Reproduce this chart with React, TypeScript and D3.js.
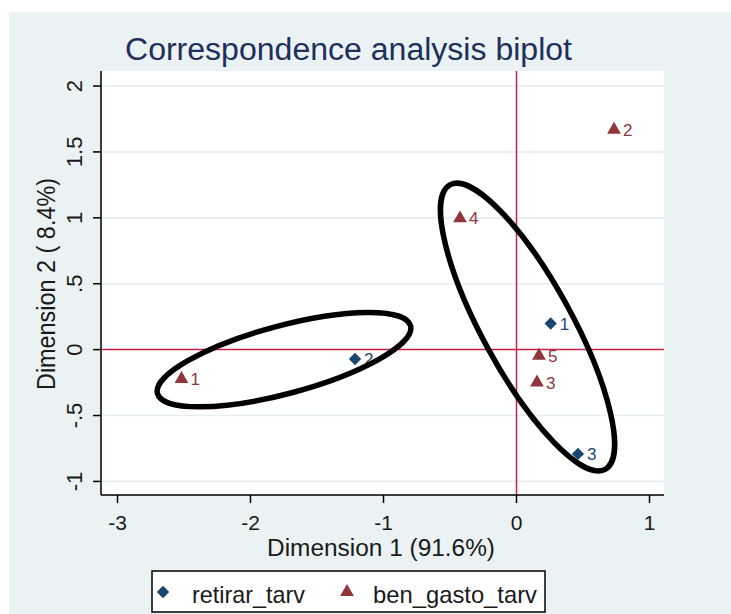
import React from 'react';
import * as d3 from 'd3';

// row / column coordinates
const retirarLabels = ['1', '2', '3'];
const retirarDim1 = [0.257, -1.214, 0.462];
const retirarDim2 = [0.198, -0.071, -0.791];

const benLabels = ['1', '2', '3', '4', '5'];
const benDim1 = [-2.519, 0.733, 0.154, -0.425, 0.169];
const benDim2 = [-0.223, 1.668, -0.249, 0.996, -0.046];

const xTicks = [-3, -2, -1, 0, 1];
const yTicks = [-1, -0.5, 0, 0.5, 1, 1.5, 2];
const yTickLabels = ['-1', '-.5', '0', '.5', '1', '1.5', '2'];

// hand drawn ellipses (center in data units, radii in px)
const ellipseCx = [-1.748, 0.083];
const ellipseCy = [-0.076, 0.171];
const ellipseRx = [131, 162];
const ellipseRy = [34, 45];
const ellipseAngle = [-15, 61.4];

const W = 731;
const H = 614;
const plot = { left: 101, right: 664, top: 71, bottom: 495 };

const NAVY = '#1a476f';
const MAROON = '#90353b';
const RED = '#c8204a';
const FONT = 'Arial, "Liberation Sans", sans-serif';

export default function App() {
  const x = d3.scaleLinear().domain([-3.124, 1.109]).range([plot.left, plot.right]);
  const y = d3.scaleLinear().domain([-1.103, 2.114]).range([plot.bottom, plot.top]);

  const diamond = d3.symbol(d3.symbolSquare, 76)();
  const triangle = d3.symbol(d3.symbolTriangle, 82)();

  return (
    <svg width={W} height={H} style={{ position: 'absolute', left: 0, top: 0, display: 'block' }}
      fontFamily={FONT}>
      <rect x={0} y={0} width={W} height={H} fill="#fff" />
      <rect x={9} y={12} width={W - 9} height={H - 12} fill="#eaf2f3" />
      <rect x={plot.left} y={plot.top} width={plot.right - plot.left} height={plot.bottom - plot.top} fill="#fff" />

      {/* gridlines */}
      {yTicks.filter(t => t !== 0).map(t => (
        <line key={'g' + t} x1={plot.left} x2={plot.right} y1={y(t)} y2={y(t)} stroke="#e6eef1" strokeWidth={1.6} />
      ))}

      {/* reference lines */}
      <line x1={plot.left} x2={plot.right} y1={y(0)} y2={y(0)} stroke={RED} strokeWidth={1.5} />
      <line x1={x(0)} x2={x(0)} y1={plot.top} y2={plot.bottom} stroke={RED} strokeWidth={1.5} />

      {/* axes */}
      <line x1={plot.left} x2={plot.left} y1={plot.top} y2={plot.bottom} stroke="#000" strokeWidth={1.5} />
      <line x1={plot.left} x2={plot.right} y1={plot.bottom} y2={plot.bottom} stroke="#000" strokeWidth={1.5} />
      {xTicks.map(t => (
        <g key={'x' + t}>
          <line x1={x(t)} x2={x(t)} y1={plot.bottom} y2={plot.bottom + 8} stroke="#000" strokeWidth={1.5} />
          <text x={x(t)} y={530} textAnchor="middle" fontSize={21} fill="#1a1a1a">{t < 0 ? '-' + Math.abs(t) : t}</text>
        </g>
      ))}
      {yTicks.map((t, i) => (
        <g key={'y' + t}>
          <line x1={plot.left - 8} x2={plot.left} y1={y(t)} y2={y(t)} stroke="#000" strokeWidth={1.5} />
          <text transform={`translate(82,${y(t)}) rotate(-90)`} textAnchor="middle" fontSize={22} fill="#1a1a1a">
            {yTickLabels[i]}
          </text>
        </g>
      ))}

      {/* titles */}
      <text x={348.5} y={60} textAnchor="middle" fontSize={31} fill="#1e2f5c" textLength={447}
        lengthAdjust="spacingAndGlyphs">Correspondence analysis biplot</text>
      <text x={381} y={556} textAnchor="middle" fontSize={23} fill="#1a1a1a" textLength={228}
        lengthAdjust="spacingAndGlyphs">Dimension 1 (91.6%)</text>
      <text transform="translate(55,284) rotate(-90)" textAnchor="middle" fontSize={25} fill="#1a1a1a"
        textLength={212} lengthAdjust="spacingAndGlyphs">Dimension 2 ( 8.4%)</text>

      {/* points */}
      {retirarLabels.map((lab, i) => (
        <g key={'r' + i}>
          <path d={diamond} transform={`translate(${x(retirarDim1[i])},${y(retirarDim2[i])}) rotate(45)`} fill={NAVY} />
          <text x={x(retirarDim1[i]) + 9} y={y(retirarDim2[i])} dy="0.36em" fontSize={17} fill={NAVY}>{lab}</text>
        </g>
      ))}
      {benLabels.map((lab, i) => (
        <g key={'b' + i}>
          <path d={triangle} transform={`translate(${x(benDim1[i])},${y(benDim2[i])})`} fill={MAROON} />
          <text x={x(benDim1[i]) + 9} y={y(benDim2[i])} dy="0.36em" fontSize={17} fill={MAROON}>{lab}</text>
        </g>
      ))}

      {/* annotation ellipses */}
      {ellipseCx.map((cx, i) => (
        <ellipse key={'e' + i} cx={0} cy={0} rx={ellipseRx[i]} ry={ellipseRy[i]}
          transform={`translate(${x(cx)},${y(ellipseCy[i])}) rotate(${ellipseAngle[i]})`}
          fill="none" stroke="#000" strokeWidth={5.5} />
      ))}

      {/* legend */}
      <rect x={152} y={571} width={393} height={41} fill="#fff" stroke="#000" strokeWidth={1.5} />
      <path d={diamond} transform="translate(163,592) rotate(45)" fill={NAVY} />
      <text x={192} y={603} fontSize={24} fill="#1a1a1a" textLength={113} lengthAdjust="spacingAndGlyphs">retirar_tarv</text>
      <path d={triangle} transform="translate(347,592)" fill={MAROON} />
      <text x={373} y={603} fontSize={24} fill="#1a1a1a" textLength={164} lengthAdjust="spacingAndGlyphs">ben_gasto_tarv</text>
    </svg>
  );
}
